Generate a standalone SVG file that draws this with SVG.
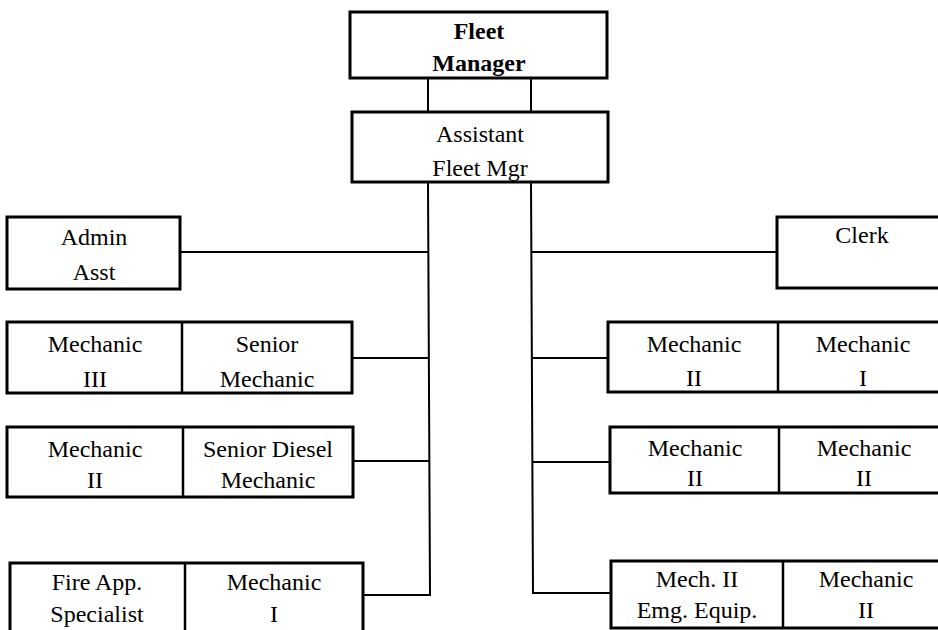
<svg xmlns="http://www.w3.org/2000/svg" width="938" height="630" viewBox="0 0 938 630">
  <style>
    .box { fill: #fff; stroke: #000; stroke-width: 3; }
    .div { stroke: #000; stroke-width: 2.5; }
    .conn { fill: none; stroke: #000; stroke-width: 2; }
    text { font-family: "Liberation Serif", "Times New Roman", serif; font-size: 24px; fill: #000; text-anchor: middle; }
    .bold { font-weight: bold; }
  </style>
  <rect width="938" height="630" fill="#fff"/>

  <!-- connectors -->
  <g id="connectors">
    <line class="conn" x1="428" y1="78" x2="428" y2="112"/>
    <line class="conn" x1="531" y1="78" x2="531" y2="112"/>
    <polyline class="conn" points="428,182 430,595 363,595"/>
    <line class="conn" x1="180" y1="252" x2="429" y2="252"/>
    <line class="conn" x1="352" y1="358" x2="429" y2="358"/>
    <line class="conn" x1="353" y1="461" x2="430" y2="461"/>
    <polyline class="conn" points="531,182 533,593 611,593"/>
    <line class="conn" x1="532" y1="252" x2="777" y2="252"/>
    <line class="conn" x1="532" y1="358" x2="608" y2="358"/>
    <line class="conn" x1="533" y1="462" x2="610" y2="462"/>
  </g>

  <g id="fleet-manager">
    <rect class="box" x="350" y="12" width="257" height="66"/>
    <text class="bold" x="479" y="39">Fleet</text>
    <text class="bold" x="479" y="71">Manager</text>
  </g>

  <g id="assistant-fleet-mgr">
    <rect class="box" x="352" y="112" width="256" height="70"/>
    <text x="480" y="142">Assistant</text>
    <text x="480" y="176">Fleet Mgr</text>
  </g>

  <g id="admin-asst">
    <rect class="box" x="7" y="217" width="173" height="72"/>
    <text x="94" y="245">Admin</text>
    <text x="94" y="280">Asst</text>
  </g>

  <g id="senior-mechanic">
    <rect class="box" x="7" y="322" width="345" height="71"/>
    <line class="div" x1="182" y1="322" x2="182" y2="393"/>
    <text x="95" y="352">Mechanic</text>
    <text x="95" y="387">III</text>
    <text x="267" y="352">Senior</text>
    <text x="267" y="387">Mechanic</text>
  </g>

  <g id="senior-diesel-mechanic">
    <rect class="box" x="7" y="427" width="346" height="70"/>
    <line class="div" x1="183" y1="427" x2="183" y2="497"/>
    <text x="95" y="457">Mechanic</text>
    <text x="95" y="488">II</text>
    <text x="268" y="457">Senior Diesel</text>
    <text x="268" y="488">Mechanic</text>
  </g>

  <g id="fire-app-specialist">
    <rect class="box" x="10" y="563" width="353" height="72"/>
    <line class="div" x1="185" y1="563" x2="185" y2="635"/>
    <text x="97" y="590">Fire App.</text>
    <text x="97" y="622">Specialist</text>
    <text x="274" y="590">Mechanic</text>
    <text x="274" y="622">I</text>
  </g>

  <g id="clerk">
    <rect class="box" x="777" y="217" width="172" height="71"/>
    <text x="862" y="243">Clerk</text>
  </g>

  <g id="mechanic-ii-i">
    <rect class="box" x="608" y="322" width="342" height="70"/>
    <line class="div" x1="778" y1="322" x2="778" y2="392"/>
    <text x="694" y="352">Mechanic</text>
    <text x="694" y="386">II</text>
    <text x="863" y="352">Mechanic</text>
    <text x="863" y="386">I</text>
  </g>

  <g id="mechanic-ii-ii">
    <rect class="box" x="610" y="427" width="340" height="66"/>
    <line class="div" x1="779" y1="427" x2="779" y2="493"/>
    <text x="695" y="456">Mechanic</text>
    <text x="695" y="486">II</text>
    <text x="864" y="456">Mechanic</text>
    <text x="864" y="486">II</text>
  </g>

  <g id="emg-equip">
    <rect class="box" x="611" y="561" width="339" height="67"/>
    <line class="div" x1="783" y1="561" x2="783" y2="628"/>
    <text x="697" y="587">Mech. II</text>
    <text x="697" y="618">Emg. Equip.</text>
    <text x="866" y="587">Mechanic</text>
    <text x="866" y="618">II</text>
  </g>
</svg>
